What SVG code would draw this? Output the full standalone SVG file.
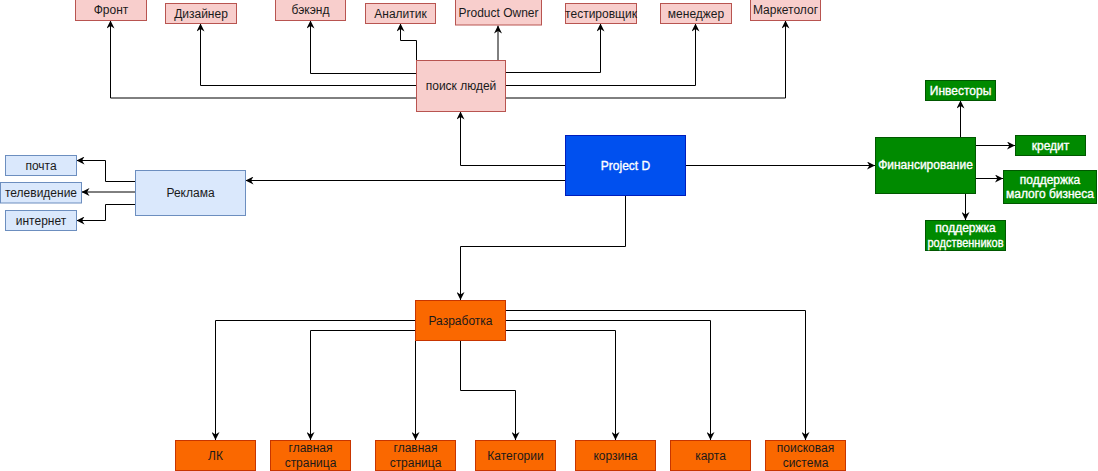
<svg xmlns="http://www.w3.org/2000/svg" width="1098" height="471" viewBox="0 0 1098 471">
  <style>
    text { font-family: "Liberation Sans", Arial, Helvetica, sans-serif; font-size: 12px; text-anchor: middle; fill: #1a1a1a; }
    .pink { fill: #f8cecc; stroke: #b85450; }
    .blue { fill: #dae8fc; stroke: #6c8ebf; }
    .core { fill: #0050ef; stroke: #001dbc; }
    .green { fill: #008a00; stroke: #005700; }
    .orange { fill: #fa6800; stroke: #c73500; }
    .light { fill: #ffffff; stroke: #ffffff; stroke-width: 0.35; }
    .edge { fill: none; stroke: #000000; stroke-width: 1; marker-end: url(#arrow); }
  </style>
  <defs>
    <marker id="arrow" viewBox="0 0 10 10" refX="10" refY="5" markerWidth="8" markerHeight="8" markerUnits="userSpaceOnUse" orient="auto">
      <path d="M0,0 L10,5 L0,10 L3,5 z" fill="#000000"/>
    </marker>
  </defs>
  <rect width="1098" height="471" fill="#ffffff"/>

  <!-- connectors -->
  <g id="connectors">
    <!-- поиск людей -> roles -->
    <path class="edge" d="M416,98 H110.5 V20.5"/>
    <path class="edge" d="M416,85.5 H200.5 V23.5"/>
    <path class="edge" d="M416,73.5 H310.5 V20.5"/>
    <path class="edge" d="M416.5,60 V40.5 H400.5 V23.5"/>
    <path class="edge" d="M498,60 V25.5"/>
    <path class="edge" d="M505,72.5 H600.5 V23.5"/>
    <path class="edge" d="M505,85.5 H695.5 V23.5"/>
    <path class="edge" d="M505,98 H785.5 V20.5"/>
    <!-- Project D -->
    <path class="edge" d="M565,180.5 H245.5"/>
    <path class="edge" d="M565,165.5 H460.5 V111.5"/>
    <path class="edge" d="M685,165.5 H875"/>
    <path class="edge" d="M625.5,195 V246.5 H460.5 V300"/>
    <!-- Реклама -> channels -->
    <path class="edge" d="M135,181.5 H105.5 V160.5 H76.5"/>
    <path class="edge" d="M135,192 H81.5"/>
    <path class="edge" d="M135,204.5 H105.5 V220.5 H76.5"/>
    <!-- Финансирование -> sources -->
    <path class="edge" d="M960.5,137 V100.5"/>
    <path class="edge" d="M975,145.5 H1015"/>
    <path class="edge" d="M975,178.5 H1003"/>
    <path class="edge" d="M965.5,193 V220"/>
    <!-- Разработка -> parts -->
    <path class="edge" d="M415,320.5 H215.5 V440"/>
    <path class="edge" d="M415,330.5 H310.5 V440"/>
    <path class="edge" d="M415.5,340 V440"/>
    <path class="edge" d="M460.5,340 V390.5 H515.5 V440"/>
    <path class="edge" d="M505,330.5 H615.5 V440"/>
    <path class="edge" d="M505,320.5 H710.5 V440"/>
    <path class="edge" d="M505,310.5 H805.5 V440"/>
  </g>

  <!-- team roles -->
  <g id="front"><rect class="pink" x="75.5" y="-0.5" width="71" height="21"/><text x="111" y="14">Фронт</text></g>
  <g id="designer"><rect class="pink" x="165.5" y="3.5" width="71" height="20"/><text x="201" y="18">Дизайнер</text></g>
  <g id="backend"><rect class="pink" x="275.5" y="-0.5" width="70" height="21"/><text x="310.5" y="14">бэкэнд</text></g>
  <g id="analyst"><rect class="pink" x="365.5" y="3.5" width="70" height="20"/><text x="400.5" y="18">Аналитик</text></g>
  <g id="product-owner"><rect class="pink" x="455.5" y="-0.5" width="86" height="25.5"/><text x="498.5" y="17">Product Owner</text></g>
  <g id="tester"><rect class="pink" x="565.5" y="3.5" width="71" height="20"/><text x="601" y="18">тестировщик</text></g>
  <g id="manager"><rect class="pink" x="660.5" y="3.5" width="71" height="20"/><text x="696" y="18">менеджер</text></g>
  <g id="marketer"><rect class="pink" x="750.5" y="-0.5" width="70" height="21"/><text x="785.5" y="14">Маркетолог</text></g>
  <g id="search"><rect class="pink" x="416.5" y="60.5" width="89" height="51"/><text x="461" y="90">поиск людей</text></g>

  <!-- advertising -->
  <g id="mail"><rect class="blue" x="5.5" y="155.5" width="71" height="20"/><text x="41" y="170">почта</text></g>
  <g id="tv"><rect class="blue" x="0.5" y="182.5" width="81" height="20.5"/><text x="41" y="197">телевидение</text></g>
  <g id="internet"><rect class="blue" x="5.5" y="210.5" width="71" height="20"/><text x="41" y="225">интернет</text></g>
  <g id="ads"><rect class="blue" x="135.5" y="170.5" width="110" height="45"/><text x="190.5" y="197">Реклама</text></g>

  <!-- core -->
  <g id="project-d"><rect class="core" x="565.5" y="135.5" width="120" height="60"/><text class="light" x="625.5" y="169.5">Project D</text></g>

  <!-- funding -->
  <g id="funding"><rect class="green" x="875.5" y="137.5" width="100" height="56"/><text class="light" x="925.5" y="169">Финансирование</text></g>
  <g id="investors"><rect class="green" x="925.5" y="80.5" width="70" height="20"/><text class="light" x="960.5" y="95">Инвесторы</text></g>
  <g id="credit"><rect class="green" x="1015.5" y="135.5" width="70" height="20"/><text class="light" x="1050.5" y="150">кредит</text></g>
  <g id="small-business"><rect class="green" x="1003.5" y="170.5" width="93" height="33"/><text class="light" x="1050" y="184">поддержка</text><text class="light" x="1050" y="198">малого бизнеса</text></g>
  <g id="relatives"><rect class="green" x="925.5" y="220.5" width="80" height="30"/><text class="light" x="965.5" y="232">поддержка</text><text class="light" x="965.5" y="247" textLength="76" lengthAdjust="spacingAndGlyphs">родственников</text></g>

  <!-- development -->
  <g id="dev"><rect class="orange" x="415.5" y="300.5" width="90" height="40"/><text x="460.5" y="324.5">Разработка</text></g>
  <g id="lk"><rect class="orange" x="175.5" y="440.5" width="80" height="30"/><text x="215.5" y="459.5">ЛК</text></g>
  <g id="main-page-1"><rect class="orange" x="270.5" y="440.5" width="80" height="30"/><text x="310.5" y="452">главная</text><text x="310.5" y="467">страница</text></g>
  <g id="main-page-2"><rect class="orange" x="375.5" y="440.5" width="80" height="30"/><text x="415.5" y="452">главная</text><text x="415.5" y="467">страница</text></g>
  <g id="categories"><rect class="orange" x="475.5" y="440.5" width="80" height="30"/><text x="515.5" y="459.5">Категории</text></g>
  <g id="cart"><rect class="orange" x="575.5" y="440.5" width="80" height="30"/><text x="615.5" y="459.5">корзина</text></g>
  <g id="map"><rect class="orange" x="670.5" y="440.5" width="80" height="30"/><text x="710.5" y="459.5">карта</text></g>
  <g id="search-engine"><rect class="orange" x="765.5" y="440.5" width="80" height="30"/><text x="805.5" y="452">поисковая</text><text x="805.5" y="467">система</text></g>
</svg>
